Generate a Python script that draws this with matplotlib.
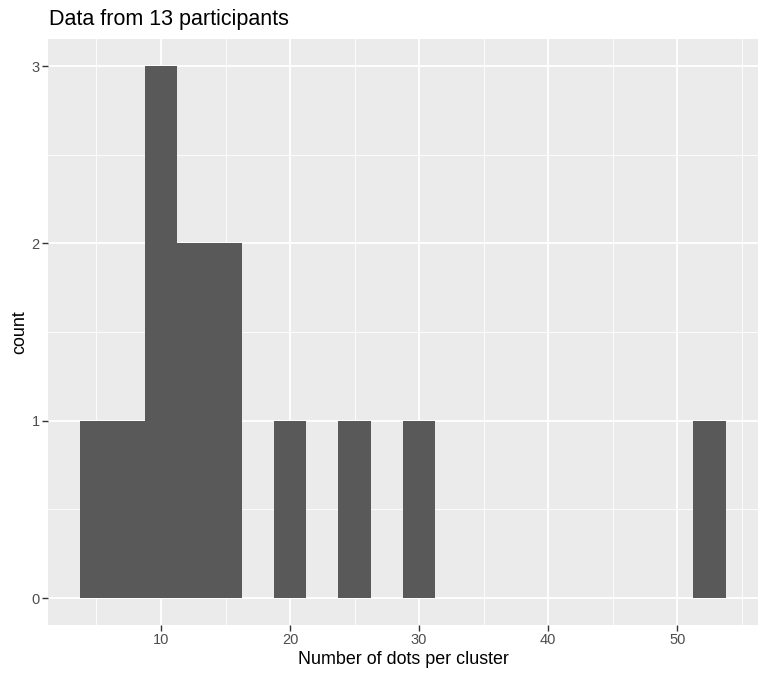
import matplotlib
matplotlib.use("Agg")
import matplotlib.pyplot as plt

# histogram bins (binwidth 2.5)
bin_centers = [5, 7.5, 10, 12.5, 15, 20, 25, 30, 52.5]
counts = [1, 1, 3, 2, 2, 1, 1, 1, 1]
binwidth = 2.5

x_breaks = [10, 20, 30, 40, 50]
x_minor = [5, 15, 25, 35, 45, 55]
y_breaks = [0, 1, 2, 3]
y_minor = [0.5, 1.5, 2.5]

W, H = 767, 680
plt.rcParams['font.family'] = ['Liberation Sans', 'DejaVu Sans']
fig = plt.figure(figsize=(W / 100, H / 100), dpi=100)
ax = fig.add_axes([48 / W, (H - 624.6) / H, (758 - 48) / W, (624.6 - 39.4) / H])
ax.set_facecolor('#EBEBEB')

for v in x_minor:
    ax.axvline(v, color='white', lw=0.6, zorder=0)
for v in y_minor:
    ax.axhline(v, color='white', lw=0.6, zorder=0)
for v in x_breaks:
    ax.axvline(v, color='white', lw=1.3, zorder=0)
for v in y_breaks:
    ax.axhline(v, color='white', lw=1.3, zorder=0)

ax.bar(bin_centers, counts, width=binwidth, color='#595959', linewidth=0, zorder=2)

ax.set_xlim(1.25, 56.25)
ax.set_ylim(-0.15, 3.15)
ax.set_xticks(x_breaks)
ax.set_yticks(y_breaks)
ax.tick_params(length=4, width=1, color='#333333', labelcolor='#4D4D4D', labelsize=10.5, pad=2)
for s in ax.spines.values():
    s.set_visible(False)

ax.set_xlabel('Number of dots per cluster', fontsize=12.9, color='black', labelpad=3)
ax.set_ylabel('count', fontsize=12.9, color='black', va='center')
ax.yaxis.set_label_coords((19.5 - 48) / 710, 0.5)
fig.text(49 / W, 1 - 25 / H, 'Data from 13 participants', fontsize=15.5, va='baseline', ha='left')

fig.savefig('out.png', dpi=100)
